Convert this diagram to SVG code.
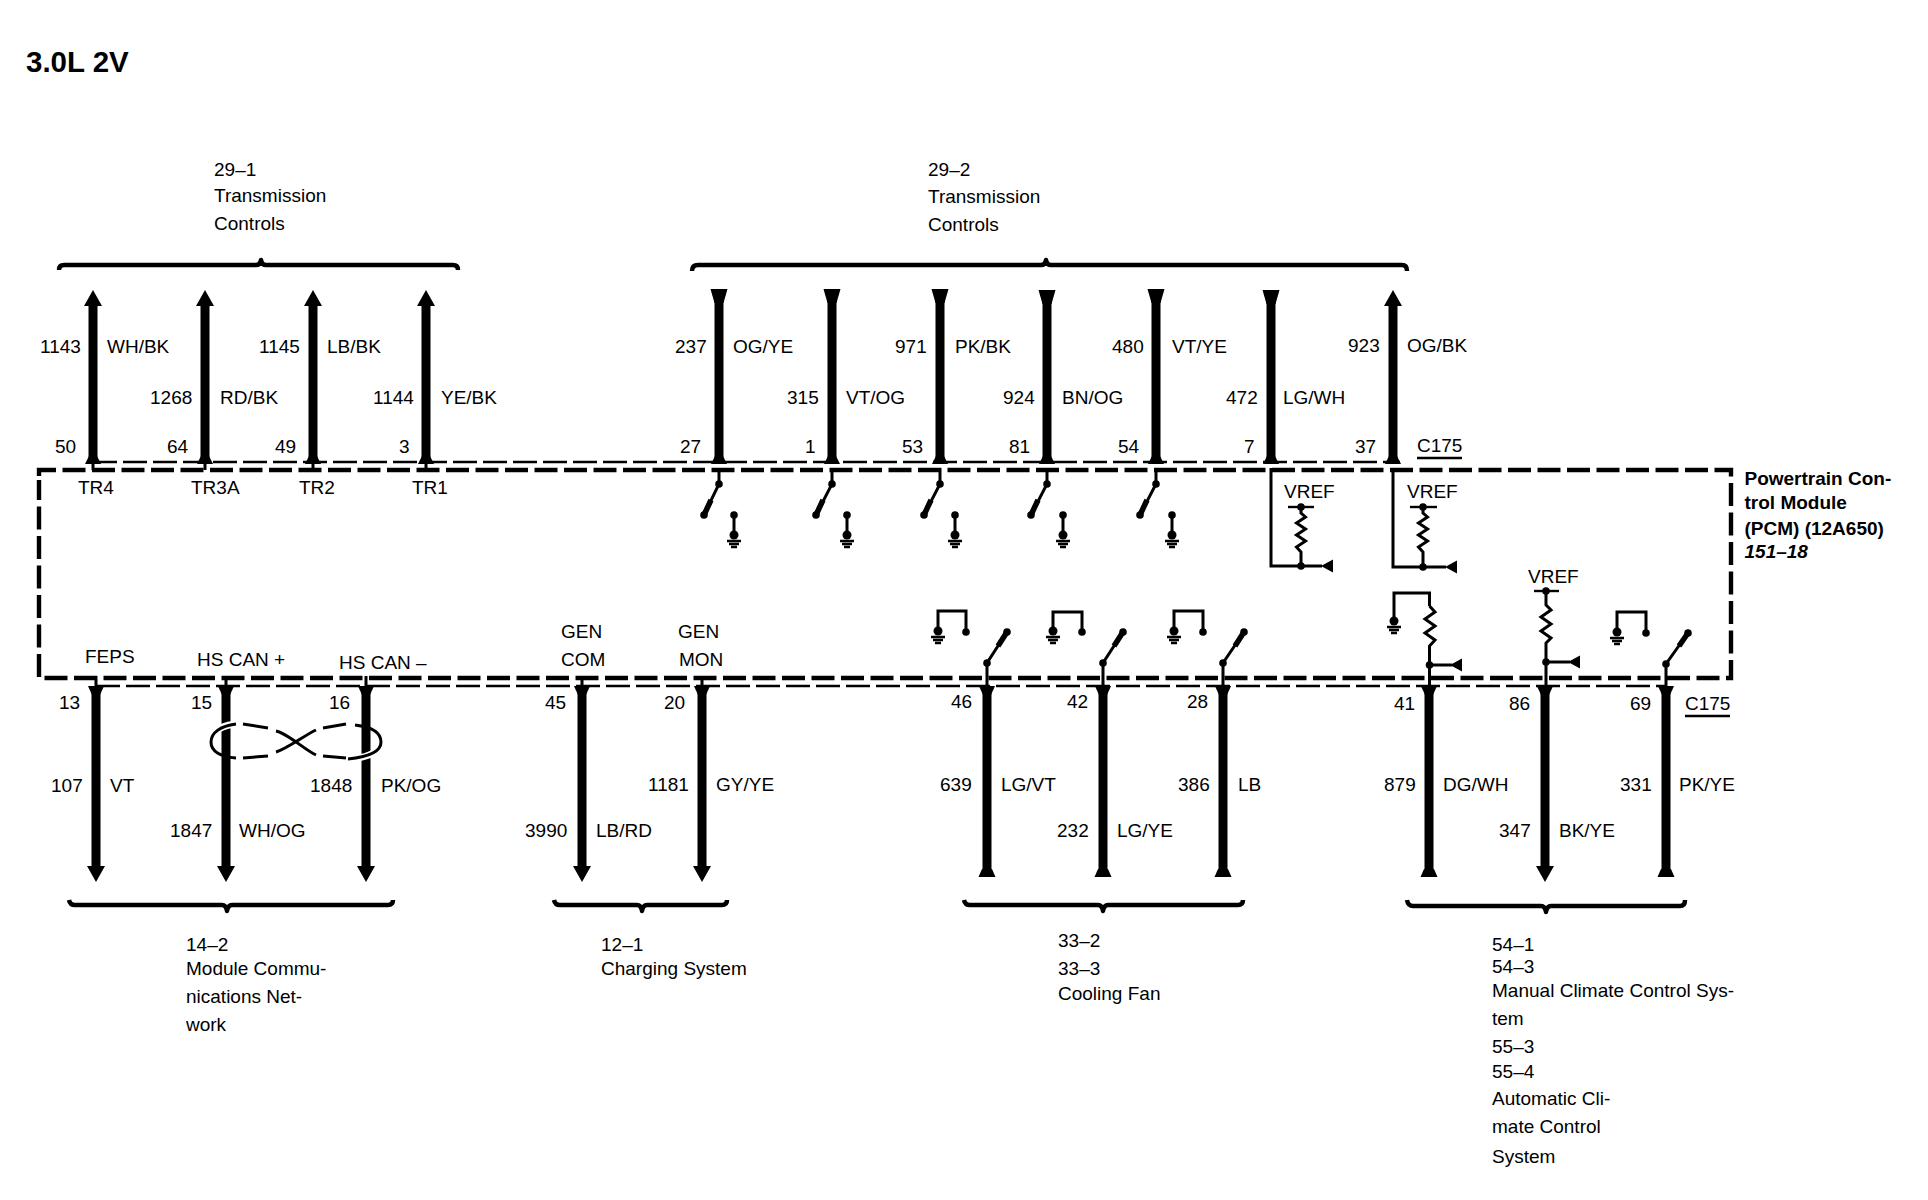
<svg xmlns="http://www.w3.org/2000/svg" width="1928" height="1200" viewBox="0 0 1928 1200">
<style>
text{font-family:"Liberation Sans",Arial,sans-serif;font-size:19px;fill:#000}
.b{font-weight:bold}
.w{stroke:#000;stroke-width:9;fill:none}
.n{stroke:#000;stroke-width:3;fill:none}
.m{stroke:#000;stroke-width:2.4;fill:none}
.r{stroke:#000;stroke-width:3;fill:none}
.a{stroke:#000;stroke-width:5.500;fill:none}
.br{stroke:#000;stroke-width:4.5;fill:none;stroke-linejoin:round}
.d1{stroke:#000;stroke-width:4.400;fill:none;stroke-dasharray:23 6.500}
.d2{stroke:#000;stroke-width:2.600;fill:none;stroke-dasharray:24 6}
.halo{stroke:#fff;stroke-width:7;fill:none}
</style>
<defs>
<polygon id="up" points="0,0 9,16 -9,16"/>
<polygon id="down" points="0,0 9,-16 -9,-16"/>
<polygon id="teeT" points="-8.5,0 8.5,0 4.5,14 -4.5,14"/>
<polygon id="teeB" points="-8.5,0 8.5,0 5,-8 -5,-8"/>
<polygon id="flareT" points="-8,1 8,1 4,-7 -4,-7"/>
<polygon id="flareB" points="-8,-1 8,-1 4,8 -4,8"/>
<polygon id="teeL" points="0,-6.5 0,6.5 -12,0"/>
<g id="gndA"><circle r="4.500"/><path class="m" d="M-7,6H7M-5,9H5M-3,12H3"/></g>
<circle id="dot" r="3.800"/>
</defs>
<rect width="1928" height="1200" fill="#fff"/>

<text id="title" class="b" x="26" y="72" style="font-size:29.5px">3.0L 2V</text>

<g id="pcm-boundary">
<path class="d1" d="M39,476V470H1731V678H39V480"/>
<path class="d2" d="M93,462H1400"/>
<path class="d2" d="M96,686H1666"/>
</g>

<g id="connectors">
<path class="w" d="M93,300V462M205,300V462M313,300V462M426,300V462M1393,300V462"/>
<path class="w" d="M719,295V462M832,295V462M940,295V462M1047,295V462M1156,295V462M1271,295V462"/>
<path class="n" d="M93,460V470M205,460V470M313,460V470M426,460V470"/>
<path class="w" d="M96,690V870M226,690V870M366,690V870M582,690V870M702,690V870M1545,690V870"/>
<path class="w" d="M987,690V873M1103,690V873M1223,690V873M1429,690V873M1666,690V873"/>
<use href="#up" x="93" y="290"/><use href="#up" x="205" y="290"/><use href="#up" x="313" y="290"/><use href="#up" x="426" y="290"/><use href="#up" x="1393" y="290"/>
<use href="#teeT" x="719" y="289"/><use href="#teeT" x="832" y="289"/><use href="#teeT" x="940" y="289"/><use href="#teeT" x="1047" y="290"/><use href="#teeT" x="1156" y="289"/><use href="#teeT" x="1271" y="290"/>
<use href="#flareT" x="93" y="463"/><use href="#flareT" x="205" y="463"/><use href="#flareT" x="313" y="463"/><use href="#flareT" x="426" y="463"/><use href="#flareT" x="719" y="463"/><use href="#flareT" x="832" y="463"/><use href="#flareT" x="940" y="463"/><use href="#flareT" x="1047" y="463"/><use href="#flareT" x="1156" y="463"/><use href="#flareT" x="1271" y="463"/><use href="#flareT" x="1393" y="463"/>
<use href="#flareB" x="96" y="687"/><use href="#flareB" x="226" y="687"/><use href="#flareB" x="366" y="687"/><use href="#flareB" x="582" y="687"/><use href="#flareB" x="702" y="687"/><use href="#flareB" x="987" y="687"/><use href="#flareB" x="1103" y="687"/><use href="#flareB" x="1223" y="687"/><use href="#flareB" x="1429" y="687"/><use href="#flareB" x="1545" y="687"/><use href="#flareB" x="1666" y="687"/>
<use href="#down" x="96" y="882"/><use href="#down" x="226" y="882"/><use href="#down" x="366" y="882"/><use href="#down" x="582" y="882"/><use href="#down" x="702" y="882"/><use href="#down" x="1545" y="882"/>
<use href="#teeB" x="987" y="877"/><use href="#teeB" x="1103" y="877"/><use href="#teeB" x="1223" y="877"/><use href="#teeB" x="1429" y="877"/><use href="#teeB" x="1666" y="877"/>
<path class="n" d="M96,676V690M226,676V690M366,676V690M582,676V690M702,676V690"/>
</g>

<g id="brackets">
<path class="br" d="M59,270Q59,265 64,265H256Q260,265 261,260Q262,265 266,265H453Q458,265 458,270"/>
<path class="br" d="M692,271Q692,265 698,265H1041Q1045,265 1046,260Q1047,265 1051,265H1402Q1407,265 1407,271"/>
<path class="br" d="M69,900Q70,905 75,905H222Q226,905 227,911Q228,905 232,905H388Q393,905 393,900"/>
<path class="br" d="M554,900Q555,905 560,905H637Q641,905 642,911Q643,905 647,905H722Q727,905 727,900"/>
<path class="br" d="M964,900Q965,905 970,905H1098Q1102,905 1103,911Q1104,905 1108,905H1238Q1243,905 1243,900"/>
<path class="br" d="M1407,900Q1408,906 1413,906H1541Q1545,906 1546,912Q1547,906 1551,906H1680Q1685,906 1685,900"/>
</g>

<g id="sw-27"><path class="n" d="M719,468V484L704,515"/><path class="a" d="M711,500L704,515"/><use href="#dot" x="719" y="484"/><use href="#dot" x="704" y="515"/><use href="#dot" x="734" y="515"/><path class="n" d="M734,515V535"/><use href="#gndA" x="734" y="535"/></g>
<g id="sw-1"><path class="n" d="M832,468V484L816,515"/><path class="a" d="M823,500L816,515"/><use href="#dot" x="832" y="484"/><use href="#dot" x="816" y="515"/><use href="#dot" x="847" y="515"/><path class="n" d="M847,515V535"/><use href="#gndA" x="847" y="535"/></g>
<g id="sw-53"><path class="n" d="M940,468V484L924,515"/><path class="a" d="M931,500L924,515"/><use href="#dot" x="940" y="484"/><use href="#dot" x="924" y="515"/><use href="#dot" x="955" y="515"/><path class="n" d="M955,515V535"/><use href="#gndA" x="955" y="535"/></g>
<g id="sw-81"><path class="n" d="M1047,468V484L1031,515"/><path class="a" d="M1038,500L1031,515"/><use href="#dot" x="1047" y="484"/><use href="#dot" x="1031" y="515"/><use href="#dot" x="1063" y="515"/><path class="n" d="M1063,515V535"/><use href="#gndA" x="1063" y="535"/></g>
<g id="sw-54"><path class="n" d="M1156,468V484L1140,515"/><path class="a" d="M1147,500L1140,515"/><use href="#dot" x="1156" y="484"/><use href="#dot" x="1140" y="515"/><use href="#dot" x="1172" y="515"/><path class="n" d="M1172,515V535"/><use href="#gndA" x="1172" y="535"/></g>

<g id="vref-7">
<path class="n" d="M1271,468V566H1322"/><path class="m" d="M1288,507H1314"/>
<path class="r" d="M1301,507V513L1305.500,517L1296.500,523L1305.500,529L1296.500,535L1305.500,541L1296.500,547L1301,552V566"/>
<use href="#dot" x="1301" y="507"/><use href="#dot" x="1301" y="566"/><use href="#teeL" x="1333" y="566"/>
</g>
<g id="vref-37">
<path class="n" d="M1393,468V567H1446"/><path class="m" d="M1410,507H1437"/>
<path class="r" d="M1423,507V513L1427.500,517L1418.500,523L1427.500,529L1418.500,535L1427.500,541L1418.500,547L1423,552V567"/>
<use href="#dot" x="1423" y="507"/><use href="#dot" x="1423" y="567"/><use href="#teeL" x="1457" y="567"/>
</g>

<g id="sw-46"><path class="n" d="M987,688V663L1007,632M938,632V611H966V632"/><path class="a" d="M998,646L1007,632"/><use href="#dot" x="987" y="663"/><use href="#dot" x="1007" y="632"/><use href="#dot" x="966" y="632"/><use href="#gndA" x="938" y="631"/></g>
<g id="sw-42"><path class="n" d="M1103,688V663L1123,632M1053,632V612H1082V632"/><path class="a" d="M1114,646L1123,632"/><use href="#dot" x="1103" y="663"/><use href="#dot" x="1123" y="632"/><use href="#dot" x="1082" y="632"/><use href="#gndA" x="1053" y="631"/></g>
<g id="sw-28"><path class="n" d="M1223,688V663L1244,632M1174,632V611H1203V632"/><path class="a" d="M1235,646L1244,632"/><use href="#dot" x="1223" y="663"/><use href="#dot" x="1244" y="632"/><use href="#dot" x="1203" y="632"/><use href="#gndA" x="1174" y="631"/></g>
<g id="sw-69"><path class="n" d="M1666,688V664L1688,633M1617,633V612H1646V633"/><path class="a" d="M1679,646L1688,633"/><use href="#dot" x="1666" y="664"/><use href="#dot" x="1688" y="633"/><use href="#dot" x="1646" y="633"/><use href="#gndA" x="1617" y="632"/></g>

<g id="res-41">
<path class="n" d="M1394,621V593H1429.500V606"/>
<path class="r" d="M1429.500,606L1435,612L1425,619L1435,626L1425,633L1435,640L1429.500,646V688"/>
<path class="n" d="M1429.500,665H1452"/>
<use href="#gndA" x="1394" y="621"/><use href="#dot" x="1429.500" y="665"/><use href="#teeL" x="1462" y="665"/>
</g>
<g id="res-86">
<path class="m" d="M1534,591H1559"/>
<path class="r" d="M1546,591V605L1551,610L1541,617L1551,624L1541,631L1551,638L1546,643V688"/>
<path class="n" d="M1546,662H1570"/>
<use href="#dot" x="1546" y="591"/><use href="#dot" x="1546" y="662"/><use href="#teeL" x="1580" y="662"/>
</g>

<g id="twist">
<path class="halo" d="M214,733C218,728 226,725 236,724"/>
<path class="halo" d="M352,759C368,757 376,752 379,748"/>
<path class="r" d="M236,724C220,726 211,733 211,742C211,751 220,757 236,758"/>
<path class="r" d="M243,724L268,728M243,758L268,756M276,731C287,733 305,750 316,755M276,752C287,749 305,735 316,730M323,728L346,724M323,756L346,758"/>
<path class="r" d="M355,725C372,727 381,733 381,742C381,752 368,757 348,759"/>
</g>

<g id="labels">
<text x="214" y="176">29–1</text><text x="214" y="202">Transmission</text><text x="214" y="230">Controls</text>
<text x="928" y="176">29–2</text><text x="928" y="203">Transmission</text><text x="928" y="231">Controls</text>

<text x="40" y="353">1143</text><text x="107" y="353">WH/BK</text>
<text x="150" y="404">1268</text><text x="220" y="404">RD/BK</text>
<text x="259" y="353">1145</text><text x="327" y="353">LB/BK</text>
<text x="373" y="404">1144</text><text x="441" y="404">YE/BK</text>
<text x="55" y="453">50</text><text x="167" y="453">64</text><text x="275" y="453">49</text><text x="399" y="453">3</text>
<text x="78" y="494">TR4</text><text x="191" y="494">TR3A</text><text x="299" y="494">TR2</text><text x="412" y="494">TR1</text>

<text x="675" y="353">237</text><text x="733" y="353">OG/YE</text>
<text x="787" y="404">315</text><text x="846" y="404">VT/OG</text>
<text x="895" y="353">971</text><text x="955" y="353">PK/BK</text>
<text x="1003" y="404">924</text><text x="1062" y="404">BN/OG</text>
<text x="1112" y="353">480</text><text x="1172" y="353">VT/YE</text>
<text x="1226" y="404">472</text><text x="1283" y="404">LG/WH</text>
<text x="1348" y="352">923</text><text x="1407" y="352">OG/BK</text>
<text x="680" y="453">27</text><text x="805" y="453">1</text><text x="902" y="453">53</text><text x="1009" y="453">81</text><text x="1118" y="453">54</text><text x="1244" y="453">7</text><text x="1355" y="453">37</text>
<text x="1417" y="452">C175</text><path class="m" d="M1417,458H1462"/>
<text x="1284" y="498">VREF</text><text x="1407" y="498">VREF</text><text x="1528" y="583">VREF</text>

<text class="b" x="1744.500" y="485">Powertrain Con-</text><text class="b" x="1744.500" y="509">trol Module</text><text class="b" x="1744.500" y="535">(PCM) (12A650)</text><text class="b" x="1744.500" y="558" font-style="italic">151–18</text>

<text x="85" y="663">FEPS</text><text x="197" y="666">HS CAN +</text><text x="339" y="669">HS CAN –</text>
<text x="561" y="638">GEN</text><text x="561" y="666">COM</text><text x="678" y="638">GEN</text><text x="679" y="666">MON</text>

<text x="59" y="709">13</text><text x="191" y="709">15</text><text x="329" y="709">16</text><text x="545" y="709">45</text><text x="664" y="709">20</text><text x="951" y="708">46</text><text x="1067" y="708">42</text><text x="1187" y="708">28</text><text x="1394" y="710">41</text><text x="1509" y="710">86</text><text x="1630" y="710">69</text>
<text x="1685" y="710">C175</text><path class="m" d="M1685,716H1730"/>

<text x="51" y="792">107</text><text x="110" y="792">VT</text>
<text x="170" y="837">1847</text><text x="239" y="837">WH/OG</text>
<text x="310" y="792">1848</text><text x="381" y="792">PK/OG</text>
<text x="525" y="837">3990</text><text x="596" y="837">LB/RD</text>
<text x="648" y="791">1181</text><text x="716" y="791">GY/YE</text>
<text x="940" y="791">639</text><text x="1001" y="791">LG/VT</text>
<text x="1057" y="837">232</text><text x="1117" y="837">LG/YE</text>
<text x="1178" y="791">386</text><text x="1238" y="791">LB</text>
<text x="1384" y="791">879</text><text x="1443" y="791">DG/WH</text>
<text x="1499" y="837">347</text><text x="1559" y="837">BK/YE</text>
<text x="1620" y="791">331</text><text x="1679" y="791">PK/YE</text>

<text x="186" y="951">14–2</text><text x="186" y="975">Module Commu-</text><text x="186" y="1003">nications Net-</text><text x="186" y="1031">work</text>
<text x="601" y="951">12–1</text><text x="601" y="975">Charging System</text>
<text x="1058" y="947">33–2</text><text x="1058" y="975">33–3</text><text x="1058" y="1000">Cooling Fan</text>
<text x="1492" y="951">54–1</text><text x="1492" y="973">54–3</text><text x="1492" y="997" textLength="242" lengthAdjust="spacing">Manual Climate Control Sys-</text><text x="1492" y="1025">tem</text><text x="1492" y="1053">55–3</text><text x="1492" y="1078">55–4</text><text x="1492" y="1105">Automatic Cli-</text><text x="1492" y="1133">mate Control</text><text x="1492" y="1163">System</text>
</g>
</svg>
